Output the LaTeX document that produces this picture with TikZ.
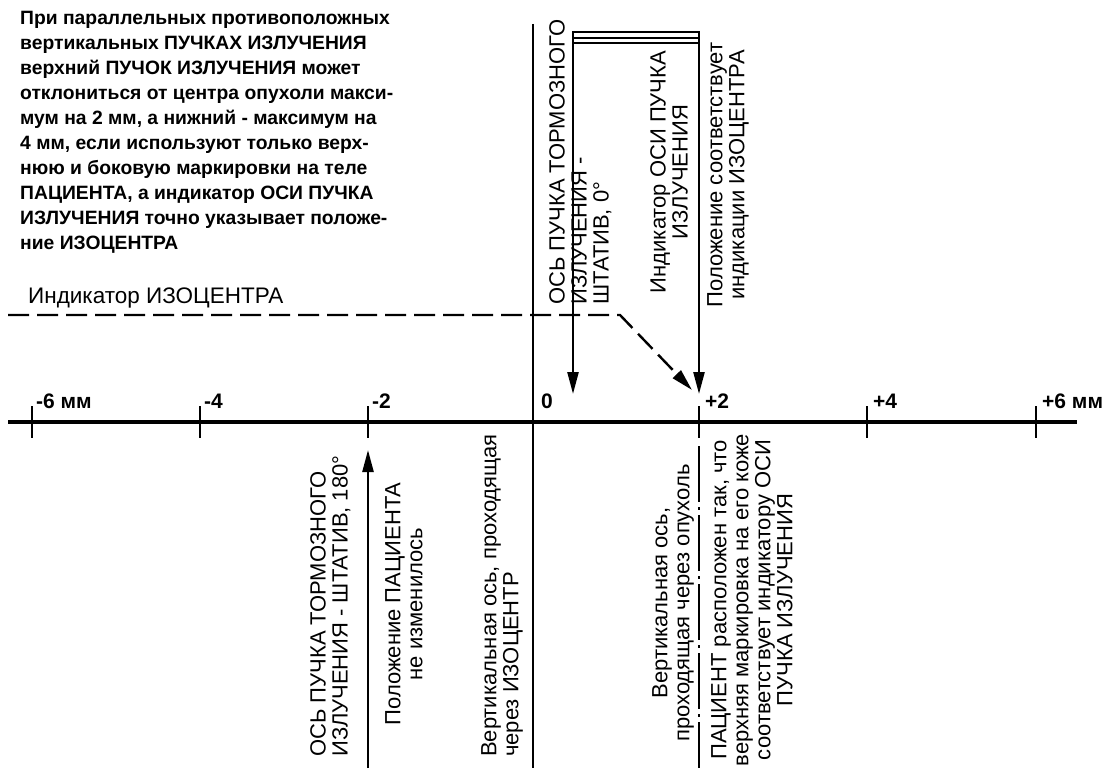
\documentclass[tikz,border=0pt]{standalone}
\usepackage{fontspec}
\setmainfont{Liberation Sans}
\usepackage{tikz}
\usetikzlibrary{arrows.meta}
\usetikzlibrary{positioning}

\begin{document}
\begin{tikzpicture}[x=1pt, y=-1pt,
    note/.style = {inner sep=0pt, align=left, font=\bfseries\fontsize{19.3}{25}\selectfont},
    vlabel/.style = {rotate=90, inner sep=0pt, font=\fontsize{22}{22}\selectfont},
    ticklabel/.style = {inner sep=0pt, font=\bfseries\fontsize{21}{21}\selectfont},
    axisline/.style = {line width=4pt},
    tickline/.style = {line width=2.4pt},
    beam/.style = {line width=2.4pt, -{Triangle[length=22pt,width=11pt]}},
    isoline/.style = {line width=2.4pt, dash pattern=on 21pt off 8pt},
    centreline/.style = {line width=2pt, dash pattern=on 56pt off 5pt on 3pt off 5pt}]

    \useasboundingbox (0,0) rectangle (1116,778);

    \node[note, anchor=north west] (note) at (20,11) {При параллельных противоположных\\
        вертикальных ПУЧКАХ ИЗЛУЧЕНИЯ\\
        верхний ПУЧОК ИЗЛУЧЕНИЯ может\\
        отклониться от центра опухоли макси-\\
        мум на 2 мм, а нижний - максимум на\\
        4 мм, если используют только верх-\\
        нюю и боковую маркировки на теле\\
        ПАЦИЕНТА, а индикатор ОСИ ПУЧКА\\
        ИЗЛУЧЕНИЯ точно указывает положе-\\
        ние ИЗОЦЕНТРА};
    \node[inner sep=0pt, anchor=base west, font=\fontsize{22.5}{22.5}\selectfont] (isolabel) at (28,303) {Индикатор ИЗОЦЕНТРА};

    % scale
    \coordinate (axL) at (8,422);
    \coordinate (axR) at (1077,422);
    \coordinate (m6t) at (32,406);   \coordinate (m6b) at (32,438);
    \coordinate (m4t) at (200,406);  \coordinate (m4b) at (200,438);
    \coordinate (m2t) at (368,406);  \coordinate (m2b) at (368,438);
    \coordinate (z0t) at (533,24);   \coordinate (z0b) at (533,768);
    \coordinate (p2t) at (699,406);  \coordinate (p2b) at (699,438);
    \coordinate (p4t) at (867,406);  \coordinate (p4b) at (867,438);
    \coordinate (p6t) at (1036,406); \coordinate (p6b) at (1036,438);

    \draw[axisline] (axL) -- (axR);
    \draw[tickline] (m6t) -- (m6b);
    \draw[tickline] (m4t) -- (m4b);
    \draw[tickline] (m2t) -- (m2b);
    \draw[tickline] (z0t) -- (z0b);
    \draw[tickline] (p2t) -- (p2b);
    \draw[tickline] (p4t) -- (p4b);
    \draw[tickline] (p6t) -- (p6b);

    \node[ticklabel, above right=-3pt and 4pt of m6t] (lm6) {-6 мм};
    \node[ticklabel, above right=-3pt and 4pt of m4t] (lm4) {-4};
    \node[ticklabel, above right=-3pt and 4pt of m2t] (lm2) {-2};
    \node[ticklabel, above right=-3pt and 8pt of z0t |- m2t] (lz0) {0};
    \node[ticklabel, above right=-3pt and 6pt of p2t] (lp2) {+2};
    \node[ticklabel, above right=-3pt and 6pt of p4t] (lp4) {+4};
    \node[ticklabel, above right=-3pt and 6pt of p6t] (lp6) {+6 мм};

    % beams from above
    \coordinate (bl) at (573,32);
    \coordinate (br) at (699,32);
    \coordinate (blTip) at (573,394);
    \coordinate (brTip) at (699,394);
    \draw[beam, {Triangle[length=22pt,width=11pt]}-{Triangle[length=22pt,width=11pt]}] (blTip) -- (bl) -- (br) -- (brTip);
    \draw[line width=2pt] ([yshift=-6pt]bl) -- ([yshift=-6pt]br);
    \draw[line width=2pt] ([yshift=-11.5pt]bl) -- ([yshift=-11.5pt]br);

    \coordinate (isoL) at (8,315);
    \coordinate (isoK) at (620,315);
    \coordinate (isoTip) at (692,390);
    \draw[isoline, -{Triangle[length=22pt,width=11pt]}] (isoL) -- (isoK) -- (isoTip);

    % beam from below and tumour axis
    \coordinate (upB) at (368,768);
    \coordinate (upTip) at (368,450);
    \draw[beam] (upB) -- (upTip);
    \coordinate (tuT) at (699,446);
    \coordinate (tuB) at (699,768);
    \draw[centreline] (tuT) -- (tuB);

    % labels above
    \node[vlabel, anchor=north west, align=left] (axis0) at (549,305) {ОСЬ ПУЧКА ТОРМОЗНОГО\\ИЗЛУЧЕНИЯ -\\ШТАТИВ, 0°};
    \node[vlabel, align=center] (beamind) at (669,172) {Индикатор ОСИ ПУЧКА\\ИЗЛУЧЕНИЯ};
    \node[vlabel, align=center] (isopos) at (728,175) {Положение соответствует\\индикации ИЗОЦЕНТРА};

    % labels below
    \node[vlabel, anchor=north west, align=left] (axis180) at (310,757) {ОСЬ ПУЧКА ТОРМОЗНОГО\\ИЗЛУЧЕНИЯ - ШТАТИВ, 180°};
    \node[vlabel, align=center] (patpos) at (404,604) {Положение ПАЦИЕНТА\\не изменилось};
    \node[vlabel, anchor=north west, align=left] (isoaxis) at (481,757) {Вертикальная ось, проходящая\\через ИЗОЦЕНТР};
    \node[vlabel, align=center] (tuaxis) at (673,603) {Вертикальная ось,\\проходящая через опухоль};
    \node[vlabel, align=center] (patmark) at (752,600) {ПАЦИЕНТ расположен так, что\\верхняя маркировка на его коже\\соответствует индикатору ОСИ\\ПУЧКА ИЗЛУЧЕНИЯ};
\end{tikzpicture}
\end{document}
